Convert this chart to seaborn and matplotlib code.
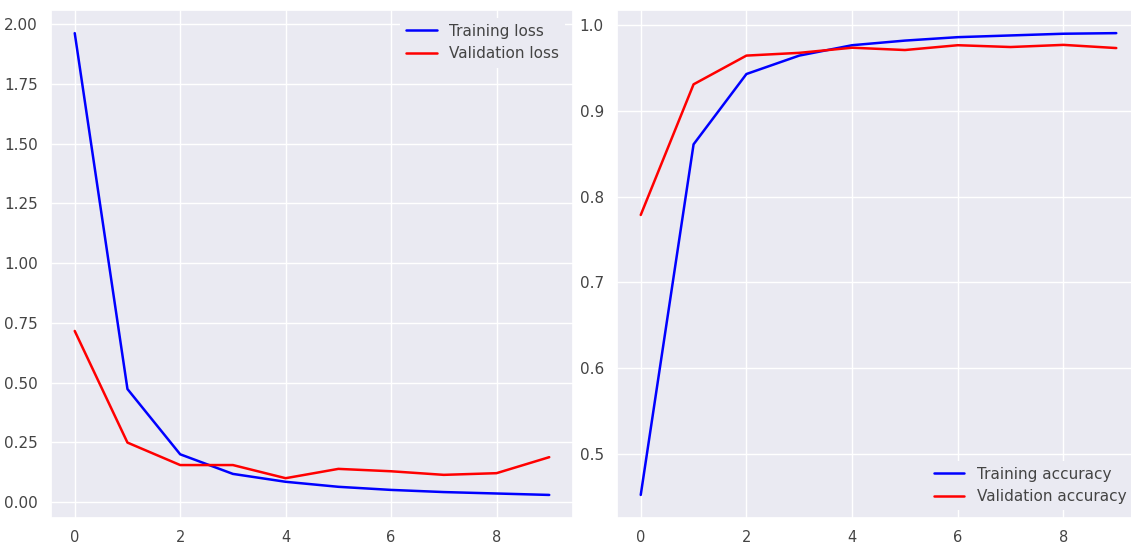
import numpy as np
import pandas as pd
import matplotlib
matplotlib.use("Agg")
from matplotlib import pyplot as plt
import seaborn as sns

epochs = list(range(10))

train_loss = [1.962, 0.473, 0.200, 0.118, 0.085, 0.064, 0.051, 0.042, 0.036, 0.030]
val_loss = [0.716, 0.249, 0.155, 0.155, 0.100, 0.139, 0.129, 0.114, 0.121, 0.188]

train_acc = [0.452, 0.861, 0.943, 0.9645, 0.9766, 0.982, 0.986, 0.988, 0.990, 0.9907]
val_acc = [0.7786, 0.931, 0.9645, 0.9677, 0.9737, 0.971, 0.9766, 0.9745, 0.977, 0.9733]

sns.set_theme(style="darkgrid", rc={"xtick.labelsize": 10.5, "ytick.labelsize": 11,
                                    "legend.fontsize": 11, "xtick.major.pad": 2.5})

fig = plt.figure(figsize=(11.31, 5.43), dpi=100)
ax1 = fig.add_axes([0.0451, 0.046, 0.4615, 0.9355])
ax2 = fig.add_axes([0.5455, 0.046, 0.4625, 0.9355])

sns.lineplot(x=epochs, y=train_loss, ax=ax1, color="#0000ff", label="Training loss", linewidth=1.8)
sns.lineplot(x=epochs, y=val_loss, ax=ax1, color="#ff0000", label="Validation loss", linewidth=1.8)

sns.lineplot(x=epochs, y=train_acc, ax=ax2, color="#0000ff", label="Training accuracy", linewidth=1.8)
sns.lineplot(x=epochs, y=val_acc, ax=ax2, color="#ff0000", label="Validation accuracy", linewidth=1.8)

for ax, loc in [(ax1, "upper right"), (ax2, "lower right")]:
    leg = ax.legend(loc=loc, facecolor="#EAEAF2", edgecolor="none", framealpha=1)
    for t in leg.get_texts():
        t.set_color("#444444")
    ax.set_xlabel("")
    ax.set_ylabel("")
    ax.tick_params(colors="#444444")

plt.savefig("out.png", dpi=100)
